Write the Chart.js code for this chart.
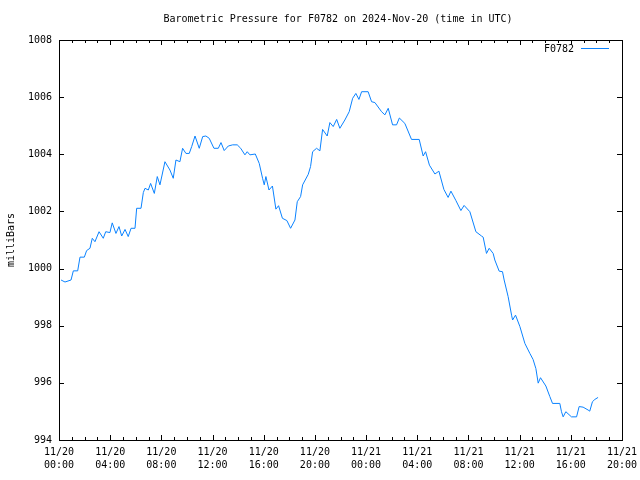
<!DOCTYPE html>
<html>
<head>
<meta charset="utf-8">
<title>Barometric Pressure for F0782</title>
<script src="https://cdn.jsdelivr.net/npm/chart.js@4/dist/chart.umd.min.js"></script>
<style>
  html, body { margin: 0; padding: 0; background: #fff; }
  #wrap { width: 640px; height: 480px; }
</style>
</head>
<body>
<div id="wrap"><canvas id="pressureChart" width="640" height="480"></canvas></div>
<script>
// ===== DATA (hours since 11/20 00:00 UTC, millibars) =====
const stationName = "F0782";
const chartTitle = "Barometric Pressure for F0782 on 2024-Nov-20 (time in UTC)";

const hours = [
  0.16, 0.47, 0.94, 1.12, 1.46, 1.64, 1.98, 2.16, 2.42, 2.60, 2.81, 3.13, 3.46, 3.65, 3.98,
  4.16, 4.45, 4.69, 4.90, 5.16, 5.41, 5.63, 5.94, 6.07, 6.41, 6.59, 6.72, 6.98, 7.16, 7.45,
  7.68, 7.89, 8.28, 8.67, 8.93, 9.14, 9.45, 9.66, 9.92, 10.18, 10.37, 10.63, 10.96, 11.23, 11.48,
  11.74, 12.11, 12.45, 12.66, 12.91, 13.23, 13.57, 13.93, 14.20, 14.53, 14.71, 14.92, 15.34, 15.65, 15.91,
  16.04, 16.17, 16.41, 16.68, 16.95, 17.16, 17.46, 17.81, 18.10, 18.44, 18.62, 18.88, 19.04, 19.48, 19.66,
  19.82, 20.13, 20.39, 20.60, 20.96, 21.17, 21.43, 21.70, 21.95, 22.34, 22.68, 22.95, 23.20, 23.44, 23.65,
  24.16, 24.43, 24.69, 25.21, 25.47, 25.73, 26.07, 26.38, 26.60, 27.03, 27.55, 28.15, 28.46, 28.65, 28.95,
  29.38, 29.69, 30.08, 30.41, 30.63, 31.02, 31.41, 31.66, 32.11, 32.58, 33.02, 33.15, 33.41, 33.62, 33.93,
  34.06, 34.40, 34.66, 34.79, 35.10, 35.37, 35.45, 35.68, 36.02, 36.41, 36.80, 37.05, 37.27, 37.45, 37.63,
  38.05, 38.36, 38.57, 39.14, 39.27, 39.40, 39.61, 40.05, 40.45, 40.65, 40.96, 41.35, 41.48, 41.69, 41.88,
  42.13
];

const pressure = [
  999.60, 999.53, 999.60, 999.92, 999.92, 1000.40, 1000.40, 1000.63, 1000.71, 1001.06, 1000.94, 1001.29, 1001.06, 1001.29, 1001.26,
  1001.60, 1001.23, 1001.47, 1001.14, 1001.37, 1001.12, 1001.41, 1001.41, 1002.11, 1002.11, 1002.66, 1002.81, 1002.75, 1002.98, 1002.63,
  1003.22, 1002.93, 1003.74, 1003.45, 1003.16, 1003.80, 1003.74, 1004.21, 1004.03, 1004.03, 1004.27, 1004.64, 1004.21, 1004.62, 1004.64,
  1004.56, 1004.21, 1004.21, 1004.41, 1004.13, 1004.29, 1004.33, 1004.33, 1004.21, 1003.98, 1004.09, 1003.98, 1004.01, 1003.68, 1003.16,
  1002.93, 1003.22, 1002.75, 1002.89, 1002.08, 1002.20, 1001.76, 1001.68, 1001.41, 1001.70, 1002.34, 1002.52, 1002.93, 1003.30, 1003.57,
  1004.09, 1004.21, 1004.12, 1004.87, 1004.64, 1005.11, 1004.97, 1005.22, 1004.91, 1005.20, 1005.49, 1005.96, 1006.13, 1005.92, 1006.19,
  1006.19, 1005.84, 1005.81, 1005.49, 1005.38, 1005.61, 1005.03, 1005.03, 1005.27, 1005.08, 1004.52, 1004.52, 1003.94, 1004.09, 1003.62,
  1003.31, 1003.41, 1002.77, 1002.49, 1002.71, 1002.38, 1002.03, 1002.21, 1001.99, 1001.29, 1001.14, 1001.10, 1000.53, 1000.71, 1000.53,
  1000.30, 999.91, 999.89, 999.60, 999.02, 998.37, 998.20, 998.37, 997.97, 997.38, 997.03, 996.82, 996.50, 995.99, 996.18,
  995.89, 995.52, 995.28, 995.28, 994.99, 994.81, 994.99, 994.81, 994.81, 995.17, 995.15, 995.05, 995.01, 995.34, 995.42,
  995.49
];

// tick labels for every 4 hours
const tickDays = ["11/20", "11/20", "11/20", "11/20", "11/20", "11/20", "11/21", "11/21", "11/21", "11/21", "11/21", "11/21"];
const tickTimes = ["00:00", "04:00", "08:00", "12:00", "16:00", "20:00", "00:00", "04:00", "08:00", "12:00", "16:00", "20:00"];

const FONT = "'DejaVu Sans Mono', 'Liberation Mono', monospace";
const LINE_COLOR = "#0a82ff";

// ===== gnuplot-style frame, inward ticks, title and key =====
const framePlugin = {
  id: "gnuFrame",
  afterDatasetsDraw(chart) {
    const { ctx, chartArea: a, scales } = chart;
    const x = scales.x, y = scales.y;
    ctx.save();
    ctx.strokeStyle = "#000";
    ctx.lineWidth = 1;
    ctx.beginPath();
    // x ticks: hourly minor, 4-hourly major (top and bottom)
    for (let h = x.min; h <= x.max; h++) {
      const px = Math.round(x.getPixelForValue(h)) + 0.5;
      const len = h % 4 === 0 ? 5 : 3;
      ctx.moveTo(px, a.bottom); ctx.lineTo(px, a.bottom - len);
      ctx.moveTo(px, a.top); ctx.lineTo(px, a.top + len);
    }
    // y ticks (left and right)
    for (let v = y.min; v <= y.max; v += 2) {
      const py = Math.round(y.getPixelForValue(v)) + 0.5;
      ctx.moveTo(a.left, py); ctx.lineTo(a.left + 5, py);
      ctx.moveTo(a.right, py); ctx.lineTo(a.right - 5, py);
    }
    ctx.stroke();
    ctx.strokeRect(Math.round(a.left) + 0.5, Math.round(a.top) + 0.5,
                   Math.round(a.right - a.left), Math.round(a.bottom - a.top));

    ctx.font = "10px " + FONT;
    ctx.fillStyle = "#000";
    ctx.textBaseline = "middle";

    // title
    ctx.textAlign = "center";
    ctx.fillText(chartTitle, 338, 19);

    // key in top-right corner
    const ds = chart.data.datasets[0];
    ctx.textAlign = "right";
    ctx.fillText(ds.label, a.right - 48, a.top + 9);
    ctx.strokeStyle = ds.borderColor;
    ctx.beginPath();
    ctx.moveTo(a.right - 41, a.top + 8.5);
    ctx.lineTo(a.right - 13, a.top + 8.5);
    ctx.stroke();
    ctx.restore();
  }
};

const ctx = document.getElementById("pressureChart");
new Chart(ctx, {
  type: "line",
  data: {
    datasets: [{
      label: stationName,
      data: hours.map((h, i) => ({ x: h, y: pressure[i] })),
      borderColor: LINE_COLOR,
      borderWidth: 1,
      pointRadius: 0,
      tension: 0,
      fill: false
    }]
  },
  options: {
    responsive: false,
    animation: false,
    layout: { padding: { left: 0, right: 18, top: 40, bottom: 0 } },
    plugins: {
      legend: { display: false },
      tooltip: { enabled: false },
      title: { display: false }
    },
    scales: {
      x: {
        type: "linear",
        min: 0,
        max: 44,
        grid: { display: false, drawTicks: false },
        border: { display: false },
        afterFit(scale) {
          scale.height = 40;
          scale.paddingLeft = 0;
          scale.paddingRight = 0;
        },
        ticks: {
          stepSize: 4,
          autoSkip: false,
          maxRotation: 0,
          padding: 6,
          color: "#000",
          font: { family: FONT, size: 10, lineHeight: 1.3 },
          callback: (v) => {
            const i = Math.round(v / 4);
            return [tickDays[i], tickTimes[i]];
          }
        }
      },
      y: {
        min: 994,
        max: 1008,
        grid: { display: false, drawTicks: false },
        border: { display: false },
        afterFit(scale) { scale.width = 59; },
        title: {
          display: true,
          text: "milliBars",
          color: "#000",
          font: { family: FONT, size: 10, lineHeight: "12px" },
          padding: { top: 5, bottom: 0 }
        },
        ticks: {
          stepSize: 2,
          padding: 7,
          color: "#000",
          font: { family: FONT, size: 10 },
          callback: (v) => String(v)
        }
      }
    }
  },
  plugins: [framePlugin]
});
</script>
</body>
</html>
